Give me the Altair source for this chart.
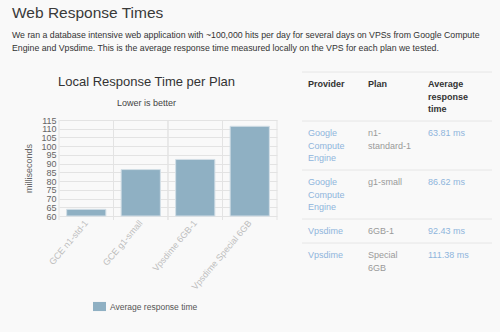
import altair as alt
import pandas as pd

# ---------------- data ----------------
plans = ["GCE n1-std-1", "GCE g1-small", "Vpsdime 6GB-1", "Vpsdime Special 6GB"]
times = [63.8, 86.6, 92.4, 111.4]
y_ticks = [60, 65, 70, 75, 80, 85, 90, 95, 100, 105, 110, 115]

table_columns = ["Provider", "Plan", "Average response time"]
table_headers = ["Provider", "Plan", "Average\nresponse\ntime"]
table_providers = ["Google\nCompute\nEngine", "Google\nCompute\nEngine", "Vpsdime", "Vpsdime"]
table_plans = ["n1-\nstandard-1", "g1-small", "6GB-1", "Special\n6GB"]
table_times = ["63.81 ms", "86.62 ms", "92.43 ms", "111.38 ms"]

heading = "Web Response Times"
intro = [
    "We ran a database intensive web application with ~100,000 hits per day for several days on VPSs from Google Compute",
    "Engine and Vpsdime. This is the average response time measured locally on the VPS for each plan we tested.",
]
chart_title = "Local Response Time per Plan"
chart_subtitle = "Lower is better"
legend_label = "Average response time"
y_title = "milliseconds"

# ---------------- style ----------------
BG = "#f9f9f9"
BAR = "#8fb0c3"
GRID = "#e3e3e3"
W, H = 218, 96
LEFT, TOP = 59, 120
FONT = "Liberation Sans"

df = pd.DataFrame({"plan": plans, "time": times, "series": [legend_label] * len(plans)})
xscale = alt.Scale(domain=plans, paddingInner=0, paddingOuter=0)

grid_start = alt.Chart(df).mark_rule(color=GRID, strokeWidth=1).encode(
    x=alt.X("plan:N", scale=xscale, bandPosition=0, axis=None),
    y=alt.value(0), y2=alt.value(H + 4))
grid_end = alt.Chart(df).mark_rule(color=GRID, strokeWidth=1).encode(
    x=alt.X("plan:N", scale=xscale, bandPosition=1, axis=None),
    y=alt.value(0), y2=alt.value(H + 4))

bars = alt.Chart(df).mark_bar(width={"band": 0.72}, stroke="#d2dee6", strokeWidth=1).encode(
    x=alt.X("plan:N", scale=xscale, title=None,
            axis=alt.Axis(labelAngle=-50, labelFontSize=9, labelColor="#bdbdbd", grid=False,
                          ticks=False, domain=False, labelPadding=5, labelLimit=0)),
    y=alt.Y("time:Q", scale=alt.Scale(domain=[60, 115], nice=False, zero=False),
            axis=alt.Axis(values=y_ticks, title=y_title, grid=True, gridColor=GRID, ticks=False,
                          domain=False, labelFontSize=9, labelColor="#666", labelPadding=3,
                          labelOverlap=False, titleFontSize=9, titleFontWeight="normal",
                          titleColor="#666", titleX=-31, titleY=H / 2, titleBaseline="middle")),
    y2=alt.datum(60),
    color=alt.Color("series:N", scale=alt.Scale(range=[BAR]),
                    legend=alt.Legend(title=None, orient="none", legendX=34, legendY=180,
                                      symbolType="M-1,-0.7H1V0.7H-1Z", symbolSize=169,
                                      symbolStrokeWidth=0, labelFontSize=8.5, labelColor="#555",
                                      labelOffset=4, padding=0)),
)

# ---------------- table ----------------
LINE_PX = 12.5
ROW_GAP = 0.92  # in line units
row_texts = [table_headers] + [list(r) for r in zip(table_providers, table_plans, table_times)]
row_lines = [max(t.count("\n") + 1 for t in r) for r in row_texts]
row_start = []
acc = 0.0
for i, n in enumerate(row_lines):
    row_start.append(acc + i * ROW_GAP)
    acc += n

cells = []
for ri, r in enumerate(row_texts):
    for ci, t in enumerate(r):
        kind = "header" if ri == 0 else ("plain" if ci == 1 else "link")
        cells.append({"col": ci, "line": row_start[ri], "text": t, "kind": kind})
tdf = pd.DataFrame(cells)
sdf = pd.DataFrame({"line": [s - 1.2 for s in row_start]})

tx = alt.Scale(domain=[0, 2], range=[308 - LEFT, 428 - LEFT])
ty = alt.Scale(domain=[0, 10], range=[87 - TOP, 87 - TOP + 10 * LINE_PX], nice=False, zero=False)

sep = alt.Chart(sdf).mark_rule(color="#e6e6e6", strokeWidth=1).encode(
    y=alt.Y("line:Q", scale=ty, axis=None),
    x=alt.value(302 - LEFT), x2=alt.value(492 - LEFT))

head_text = alt.Chart(tdf).transform_filter(alt.datum.kind == "header").mark_text(
    align="left", baseline="alphabetic", fontSize=9, fontWeight="bold", color="#333",
    lineBreak="\n", lineHeight=LINE_PX).encode(
    x=alt.X("col:Q", scale=tx, axis=None),
    y=alt.Y("line:Q", scale=ty, axis=None),
    text="text:N")

body_text = alt.Chart(tdf).transform_filter(alt.datum.kind != "header").mark_text(
    align="left", baseline="alphabetic", fontSize=9, lineBreak="\n", lineHeight=LINE_PX).encode(
    x=alt.X("col:Q", scale=tx, axis=None),
    y=alt.Y("line:Q", scale=ty, axis=None),
    text="text:N",
    color=alt.Color("kind:N", scale=alt.Scale(domain=["link", "plain"], range=["#8fb5dc", "#9a9a9a"]),
                    legend=None))

# ---------------- page text ----------------
one = alt.Data(values=[{}])
heading_layer = alt.Chart(one).mark_text(align="left", baseline="alphabetic", fontSize=15.5,
                                         color="#3a3a3a").encode(
    x=alt.value(12 - LEFT), y=alt.value(17.5 - TOP), text=alt.value(heading))
intro_layer = alt.Chart(one).mark_text(align="left", baseline="alphabetic", fontSize=8.75,
                                       lineHeight=13, color="#333").encode(
    x=alt.value(12 - LEFT), y=alt.value(37.5 - TOP), text=alt.value(intro))
title_layer = alt.Chart(one).mark_text(align="center", baseline="alphabetic", fontSize=13,
                                       color="#333").encode(
    x=alt.value(146.5 - LEFT), y=alt.value(85.5 - TOP), text=alt.value(chart_title))
subtitle_layer = alt.Chart(one).mark_text(align="center", baseline="alphabetic", fontSize=9,
                                          color="#444").encode(
    x=alt.value(146.5 - LEFT), y=alt.value(106 - TOP), text=alt.value(chart_subtitle))

chart = alt.layer(grid_start, grid_end, bars, sep, head_text, body_text, heading_layer, intro_layer,
                  title_layer, subtitle_layer).resolve_scale(
    x="independent", y="independent", color="independent"
).properties(
    width=W, height=H,
    padding={"left": LEFT, "top": TOP, "right": 500 - LEFT - W, "bottom": 332 - TOP - H},
    autosize=alt.AutoSizeParams(type="none"),
    background=BG,
).configure(font=FONT).configure_view(stroke=None)

chart.save("out.html", embed_options={"renderer": "svg", "actions": False})
